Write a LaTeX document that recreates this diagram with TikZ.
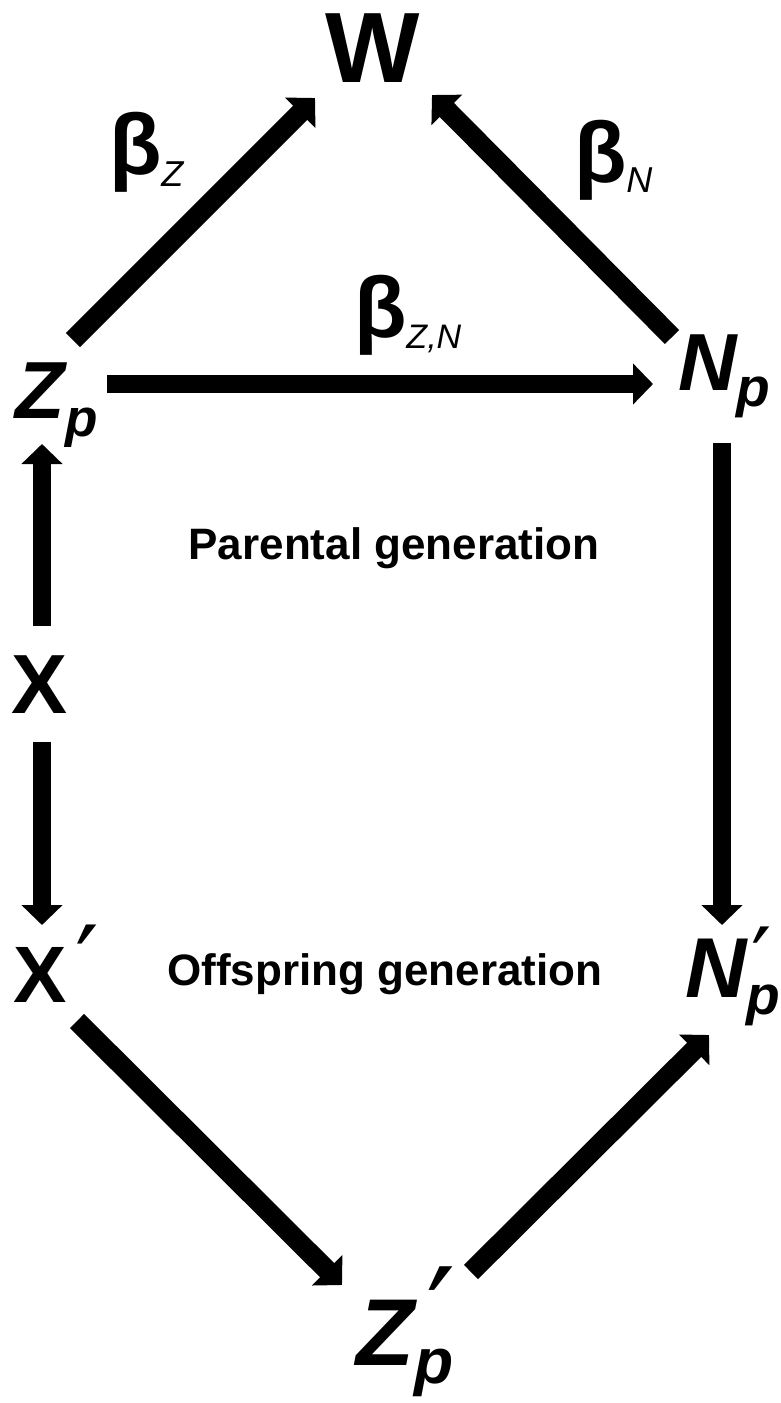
\documentclass[tikz,border=0pt]{standalone}
\usepackage{fontspec}
\setmainfont{Liberation Sans}
\newfontfamily\dvs{DejaVu Sans}
\usetikzlibrary{arrows.meta}
\newcommand\fsz[1]{\fontsize{#1}{#1}\selectfont}
\newcommand\lowered[2]{\raisebox{-#1}{#2}}
\begin{document}
\begin{tikzpicture}[x=1pt,y=-1pt,
  lbl/.style={inner sep=0pt, outer sep=0pt, anchor=base},
  lblw/.style={inner sep=0pt, outer sep=0pt, anchor=base west},
  arr/.style={line width=18pt, -{Triangle[length=20pt,width=40pt]}},
  darr/.style={line width=20pt, -{Triangle[length=21pt,width=42pt]}},
  bigup/.style={font=\bfseries\fsz{84}},
  bigit/.style={font=\bfseries\itshape\fsz{81}},
  beta/.style={lblw, font=\bfseries\fsz{86}},
  gen/.style={lbl, font=\bfseries\fsz{44}}
]
\useasboundingbox (0,0) rectangle (781,1403);

% main variables
\node[lbl, font=\bfseries\fsz{100}] (W) at (373,82) {W};
\node[lblw, bigit] (Zp) at (16,418) {Z\lowered{18pt}{\fsz{53}p}};
\node[lblw, bigit] (Np) at (678,390) {N\lowered{16pt}{\fsz{55}p}};
\node[lbl, bigup] (X) at (40,713) {X};
\node[lbl, font=\bfseries\fsz{80}] (Xp) at (40,1002) {X\rlap{\kern9pt\raisebox{1pt}{\mdseries\dvs\fsz{105}′}}};
\node[lblw, font=\bfseries\itshape\fsz{85}] (Npp) at (685,997) {N\rlap{\kern5pt\raisebox{5pt}{\mdseries\upshape\dvs\fsz{90}′}}\lowered{17pt}{\fsz{55}p}};
\node[lblw, font=\bfseries\itshape\fsz{95}] (Zpp) at (356,1365) {Z\rlap{\kern12pt\raisebox{4pt}{\mdseries\upshape\dvs\fsz{130}′}}\lowered{18pt}{\fsz{64}p}};

% coefficients
\node[beta] (bZ) at (109,174) {β\lowered{12pt}{\mdseries\itshape\fsz{36}Z}};
\node[beta] (bN) at (574,182) {β\lowered{10pt}{\mdseries\itshape\fsz{36}N}};
\node[beta] (bZN) at (354,337) {β\lowered{11pt}{\mdseries\itshape\fsz{34}Z,N}};

% generation labels
\node[gen] (pg) at (394,559) {Parental generation};
\node[gen] (og) at (385,985) {Offspring generation};

% connectors
\draw[darr] ([shift={(57,-78)}]Zp.base west) -- ([shift={(-58,16)}]W.base);
\draw[darr] ([shift={(-6,-53)}]Np.base west) -- ([shift={(59,13)}]W.base);
\draw[arr] ([shift={(91,-34)}]Zp.base west) -- ([shift={(-25,-6)}]Np.base west);
\draw[arr] ([shift={(2,-87)}]X.base) -- ([shift={(26,26)}]Zp.base west);
\draw[arr] ([shift={(2,29)}]X.base) -- ([shift={(2,-77)}]Xp.base);
\draw[arr] ([shift={(44,53)}]Np.base west) -- ([shift={(37,-72)}]Npp.base west);
\draw[darr] ([shift={(37,19)}]Xp.base) -- ([shift={(-14,-80)}]Zpp.base west);
\draw[darr] ([shift={(115,-93)}]Zpp.base west) -- ([shift={(24,38)}]Npp.base west);
\end{tikzpicture}
\end{document}
